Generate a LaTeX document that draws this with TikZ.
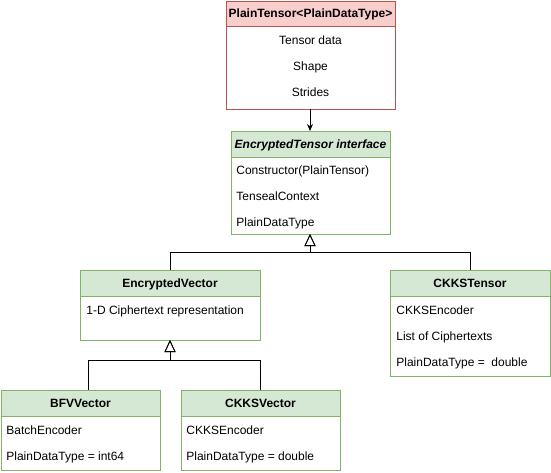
\documentclass[tikz,border=0pt]{standalone}
\usepackage{fontspec}
\setmainfont{Liberation Sans}
\usetikzlibrary{arrows.meta}
\definecolor{pinkfill}{HTML}{F8CECC}
\definecolor{pinkline}{HTML}{B85450}
\definecolor{greenfill}{HTML}{D5E8D4}
\definecolor{greenline}{HTML}{82B366}
\tikzset{
  boxpink/.style={draw=pinkline, fill=white},
  boxgreen/.style={draw=greenline, fill=white},
  hdrpink/.style={draw=pinkline, fill=pinkfill},
  hdrgreen/.style={draw=greenline, fill=greenfill},
  txt/.style={inner sep=0pt, text height=10pt, text depth=2pt},
  title/.style={txt, font=\fontsize{12}{14}\selectfont\bfseries},
  ititle/.style={txt, font=\fontsize{12}{14}\selectfont\bfseries\itshape},
  item/.style={txt, font=\fontsize{12}{14}\selectfont, anchor=west},
  citem/.style={txt, font=\fontsize{12}{14}\selectfont},
  inh/.style={draw=black, line width=0.8pt, -{Triangle[open, length=12pt, width=11pt]}},
  assoc/.style={draw=black, line width=0.8pt, -{Stealth[length=7pt, width=6pt]}},
}
\begin{document}
\begin{tikzpicture}[x=1pt, y=-1pt, line width=0.8pt]
\useasboundingbox (0,0) rectangle (551,472);
% PlainTensor
\draw[boxpink] (226,1) rectangle (395,109);
\draw[hdrpink] (226,1) rectangle (395,26);
\node[title] (pt) at (310.5,13.5) {PlainTensor<PlainDataType>};
\node[citem] (pt1) at (310.5,40) {Tensor data};
\node[citem] (pt2) at (310.5,66) {Shape};
\node[citem] (pt3) at (310.5,92) {Strides};
\coordinate (ptb) at (310,109);
% EncryptedTensor
\draw[boxgreen] (231,131) rectangle (390,234);
\draw[hdrgreen] (231,131) rectangle (390,157);
\node[ititle] (et) at (310.5,144) {EncryptedTensor interface};
\node[item] (et1) at (236,170) {Constructor(PlainTensor)};
\node[item] (et2) at (236,196) {TensealContext};
\node[item] (et3) at (236,222) {PlainDataType};
\coordinate (ett) at (310,131);
\coordinate (etb) at (310,234);
% EncryptedVector
\draw[boxgreen] (80,270) rectangle (260,340);
\draw[hdrgreen] (80,270) rectangle (260,296);
\node[title] (ev) at (170,283) {EncryptedVector};
\node[item] (ev1) at (86,310) {1-D Ciphertext representation};
\coordinate (evt) at (170,270);
\coordinate (evb) at (170,340);
% CKKSTensor
\draw[boxgreen] (390,270) rectangle (550,376);
\draw[hdrgreen] (390,270) rectangle (550,296);
\node[title] (ct) at (470,283) {CKKSTensor};
\node[item] (ct1) at (396,310) {CKKSEncoder};
\node[item] (ct2) at (396,336) {List of Ciphertexts};
\node[item] (ct3) at (396,362) {PlainDataType =\ \ double};
\coordinate (ctt) at (470,270);
% BFVVector
\draw[boxgreen] (1,390) rectangle (160,470);
\draw[hdrgreen] (1,390) rectangle (160,416);
\node[title] (bv) at (80.5,403) {BFVVector};
\node[item] (bv1) at (6,430) {BatchEncoder};
\node[item] (bv2) at (6,456) {PlainDataType = int64};
\coordinate (bvt) at (88,390);
% CKKSVector
\draw[boxgreen] (181,390) rectangle (340,470);
\draw[hdrgreen] (181,390) rectangle (340,416);
\node[title] (cv) at (260.5,403) {CKKSVector};
\node[item] (cv1) at (186,430) {CKKSEncoder};
\node[item] (cv2) at (186,456) {PlainDataType = double};
\coordinate (cvt) at (260,390);
% connectors
\draw[assoc] (ptb) -- (ett);
\draw[inh] (evt) |- (310,252) -- (etb);
\draw[inh] (ctt) |- (310,252) -- (etb);
\draw[inh] (bvt) |- (170,360) -- (evb);
\draw[inh] (cvt) |- (170,360) -- (evb);
\end{tikzpicture}
\end{document}
